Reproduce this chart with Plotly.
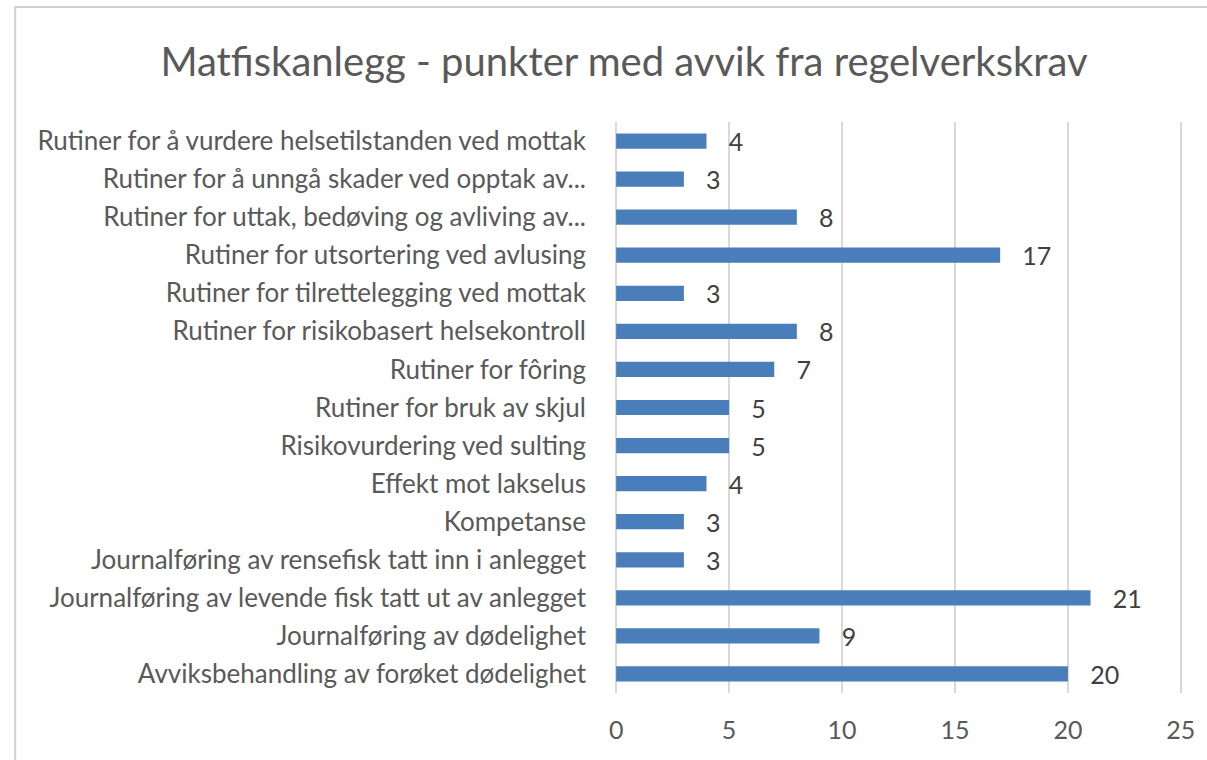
import plotly.graph_objects as go

categories = [
    "Rutiner for å vurdere helsetilstanden ved mottak",
    "Rutiner for å unngå skader ved opptak av...",
    "Rutiner for uttak, bedøving og avliving av...",
    "Rutiner for utsortering ved avlusing",
    "Rutiner for tilrettelegging ved mottak",
    "Rutiner for risikobasert helsekontroll",
    "Rutiner for fôring",
    "Rutiner for bruk av skjul",
    "Risikovurdering ved sulting",
    "Effekt mot lakselus",
    "Kompetanse",
    "Journalføring av rensefisk tatt inn i anlegget",
    "Journalføring av levende fisk tatt ut av anlegget",
    "Journalføring av dødelighet",
    "Avviksbehandling av forøket dødelighet",
]
values = [4, 3, 8, 17, 3, 8, 7, 5, 5, 4, 3, 3, 21, 9, 20]
tick_vals = [0, 5, 10, 15, 20, 25]
title_text = "Matfiskanlegg - punkter med avvik fra regelverkskrav"

W, H = 1207, 760
L, R, T, B = 615, 22, 122, 67
pw = W - L - R
ph = H - T - B
FONT = "Lato, sans-serif"

fig = go.Figure()
fig.add_trace(go.Bar(
    y=categories,
    x=values,
    orientation="h",
    marker=dict(color="#4A7EBB", line=dict(width=0)),
    width=0.40,
    text=["\u00a0\u00a0\u00a0" + str(v) for v in values],
    textposition="outside",
    constraintext="none",
    textfont=dict(family=FONT, size=25, color="#404040"),
    cliponaxis=False,
))

fig.update_layout(
    width=W, height=H,
    margin=dict(l=L, r=R, t=T, b=B, pad=0),
    paper_bgcolor="white",
    plot_bgcolor="white",
    showlegend=False,
    font=dict(family=FONT, color="#595959"),
    title=dict(
        text=title_text,
        x=624 / W, xanchor="center",
        y=1 - 62 / H, yanchor="middle",
        font=dict(family=FONT, size=40, color="#595959"),
    ),
    xaxis=dict(
        range=[-0.05, 25.05],
        tickvals=tick_vals,
        showgrid=True,
        gridcolor="#D9D9D9",
        gridwidth=2,
        zeroline=False,
        showline=False,
        ticks="",
        tickfont=dict(family=FONT, size=25, color="#595959"),
        ticklabelstandoff=20,
    ),
    yaxis=dict(
        categoryorder="array",
        categoryarray=categories[::-1],
        autorange=True,
        showgrid=False,
        zeroline=False,
        showline=False,
        ticks="",
        tickfont=dict(family=FONT, size=26, color="#595959"),
        ticklabelstandoff=28,
    ),
    bargap=0.60,
)

# chart frame (light gray border like the source)
fig.add_shape(
    type="rect", xref="paper", yref="paper",
    x0=(12 - L) / pw, x1=(W + 10 - L) / pw,
    y0=-(H + 10 - T - ph) / ph, y1=1 + (T - 7) / ph,
    line=dict(color="#D0D0D0", width=2),
    fillcolor="rgba(0,0,0,0)",
    layer="below",
)

fig.write_html(
    "out.html",
    config={"displayModeBar": False},
    post_script="document.body.style.margin='0';",
)
